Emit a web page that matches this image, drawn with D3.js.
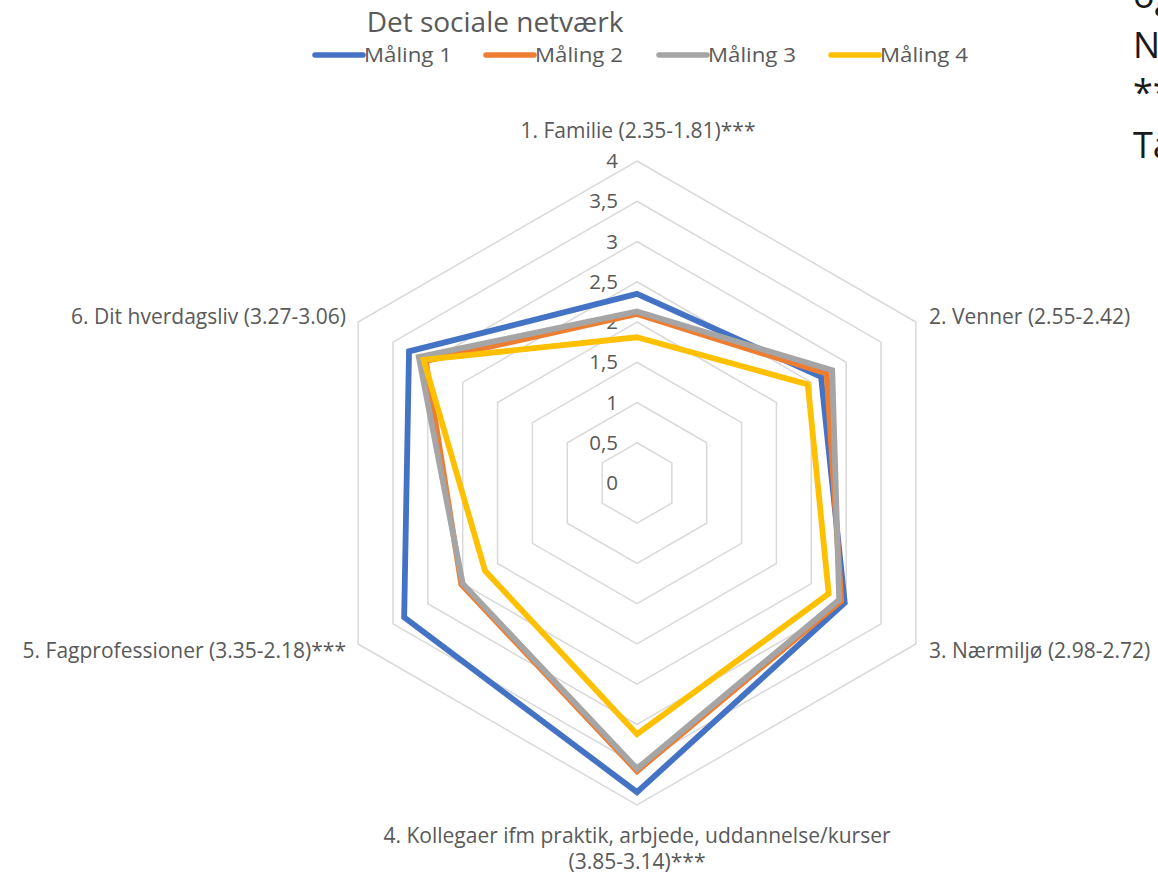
<!DOCTYPE html>
<html>
<head>
<meta charset="utf-8">
<script src="https://d3js.org/d3.v7.min.js"></script>
<style>
	body { margin: 0; background: #fff; }
	text { font-family: "Open Sans", "Noto Sans", sans-serif; }
</style>
</head>
<body>
<script>
var categories = [
	["1. Familie (2.35-1.81)***"],
	["2. Venner (2.55-2.42)"],
	["3. Nærmiljø (2.98-2.72)"],
	["4. Kollegaer ifm praktik, arbjede, uddannelse/kurser", "(3.85-3.14)***"],
	["5. Fagprofessioner (3.35-2.18)***"],
	["6. Dit hverdagsliv (3.27-3.06)"]
];
var seriesNames = ["Måling 1", "Måling 2", "Måling 3", "Måling 4"];
var maaling1 = [2.35, 2.64, 2.98, 3.84, 3.34, 3.27];
var maaling2 = [2.10, 2.72, 2.93, 3.58, 2.52, 3.03];
var maaling3 = [2.13, 2.80, 2.90, 3.55, 2.50, 3.13];
var maaling4 = [1.81, 2.45, 2.75, 3.12, 2.18, 3.06];
var tickValues = [0, 0.5, 1, 1.5, 2, 2.5, 3, 3.5, 4];
var tickLabels = ["0", "0,5", "1", "1,5", "2", "2,5", "3", "3,5", "4"];
var sideText = ["og", "N", "**", "Ta"];

var svgConfig = {
	width: 1158,
	height: 877,
	cx: 637,
	cy: 483,
	radius: 322
}
var colors = ["#4472C4", "#ED7D31", "#A5A5A5", "#FFC000"];
var allSeries = [maaling1, maaling2, maaling3, maaling4];

var svg =
	d3.select('body')
	.append('svg')
	.attr('width', svgConfig.width)
	.attr('height', svgConfig.height);

var rScale =
	d3.scaleLinear()
	.domain([0, 4])
	.range([0, svgConfig.radius]);

function angle(i) {
	return -Math.PI / 2 + i * 2 * Math.PI / categories.length;
}
function point(v, i) {
	return [svgConfig.cx + rScale(v) * Math.cos(angle(i)), svgConfig.cy + rScale(v) * Math.sin(angle(i))];
}

// gitter
var line = d3.line();
svg.selectAll('.ring')
	.data(tickValues.filter(function (d) { return d > 0; }))
	.enter()
	.append('path')
	.attr('class', 'ring')
	.attr('d', function (d) {
		return line(categories.map(function (c, i) { return point(d, i); })) + 'Z';
	})
	.attr('fill', 'none')
	.attr('stroke', '#d9d9d9')
	.attr('stroke-width', 1.5);

// akse tal
svg.selectAll('.tick')
	.data(tickValues)
	.enter()
	.append('text')
	.attr('class', 'tick')
	.attr('x', svgConfig.cx - 19)
	.attr('y', function (d) { return svgConfig.cy - rScale(d); })
	.attr('dy', '0.35em')
	.attr('text-anchor', 'end')
	.attr('font-size', 20.5)
	.attr('fill', '#595959')
	.text(function (d, i) { return tickLabels[i]; });

// serier
svg.selectAll('.serie')
	.data(allSeries)
	.enter()
	.append('path')
	.attr('class', 'serie')
	.attr('d', function (d) {
		return line(d.map(function (v, i) { return point(v, i); })) + 'Z';
	})
	.attr('fill', 'none')
	.attr('stroke', function (d, i) { return colors[i]; })
	.attr('stroke-width', 5.8)
	.attr('stroke-linejoin', 'miter');

// kategori tekster
var labelPos = [
	{ x: 638, y: 131, anchor: 'middle' },
	{ x: 929, y: 317, anchor: 'start' },
	{ x: 929, y: 651, anchor: 'start' },
	{ x: 637, y: 836, anchor: 'middle' },
	{ x: 346, y: 651, anchor: 'end' },
	{ x: 346, y: 317, anchor: 'end' }
];
svg.selectAll('.cat')
	.data(categories)
	.enter()
	.append('text')
	.attr('class', 'cat')
	.attr('x', function (d, i) { return labelPos[i].x; })
	.attr('y', function (d, i) { return labelPos[i].y; })
	.attr('text-anchor', function (d, i) { return labelPos[i].anchor; })
	.attr('font-size', 21)
	.attr('fill', '#595959')
	.each(function (d, i) {
		var t = d3.select(this);
		d.forEach(function (s, j) {
			t.append('tspan')
				.attr('x', labelPos[i].x)
				.attr('dy', j === 0 ? '0.35em' : 26)
				.text(s);
		});
	});

// titel
svg.append('text')
	.attr('x', 495)
	.attr('y', 32)
	.attr('text-anchor', 'middle')
	.attr('font-size', 28)
	.attr('fill', '#595959')
	.text('Det sociale netværk');

// legende
var legendX = [313, 484, 657, 829];
var legend = svg.selectAll('.legend')
	.data(seriesNames)
	.enter()
	.append('g')
	.attr('class', 'legend')
	.attr('transform', function (d, i) { return 'translate(' + legendX[i] + ',55)'; });
legend.append('line')
	.attr('x1', 2)
	.attr('x2', 50)
	.attr('stroke', function (d, i) { return colors[i]; })
	.attr('stroke-width', 5.5)
	.attr('stroke-linecap', 'round');
legend.append('text')
	.attr('x', 51)
	.attr('dy', '0.35em')
	.attr('font-size', 20)
	.attr('textLength', 88)
	.attr('lengthAdjust', 'spacingAndGlyphs')
	.attr('fill', '#595959')
	.text(function (d) { return d; });

// afskaaret tekst til hoejre
svg.selectAll('.side')
	.data(sideText)
	.enter()
	.append('text')
	.attr('class', 'side')
	.attr('x', 1133)
	.attr('y', function (d, i) { return [8, 58, 105, 158][i]; })
	.attr('font-size', 36)
	.attr('fill', '#1a1a1a')
	.text(function (d) { return d; });
</script>
</body>
</html>
